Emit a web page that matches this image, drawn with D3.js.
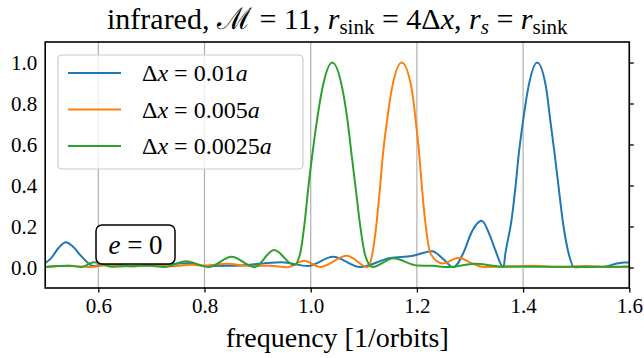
<!DOCTYPE html>
<html>
<head>
<meta charset="utf-8">
<script src="https://cdn.jsdelivr.net/npm/d3@7"></script>
<style>
  body { margin: 0; background: #fff; }
  svg text { font-family: "Liberation Serif", "DejaVu Serif", serif; fill: #000; }
</style>
</head>
<body>
<svg id="chart" width="644" height="358"></svg>
<script>
// Normalised power spectra for three grid resolutions (eccentricity e = 0)
const freqCoarse = [0.500, 0.510, 0.525, 0.539, 0.553, 0.567, 0.579, 0.590, 0.610, 0.640, 0.670, 0.720, 0.770, 0.800, 0.840, 0.870, 0.910, 0.945, 0.995, 1.042, 1.093, 1.150, 1.190, 1.229, 1.250, 1.268, 1.2906, 1.300, 1.322, 1.3376, 1.347, 1.363, 1.3665, 1.378, 1.3855, 1.3917, 1.3998, 1.4095, 1.4265, 1.4435, 1.4515, 1.4596, 1.467, 1.4746, 1.486, 1.496, 1.520, 1.550, 1.575, 1.590, 1.600];
const powerCoarse = [0.022, 0.042, 0.095, 0.123, 0.100, 0.058, 0.026, 0.007, 0.016, 0.012, 0.008, 0.016, 0.021, 0.007, 0.008, 0.010, 0.020, 0.026, 0.007, 0.052, 0.002, 0.047, 0.056, 0.079, 0.040, 0.001, 0.090, 0.155, 0.228, 0.155, 0.090, 0.001, 0.066, 0.228, 0.390, 0.550, 0.712, 0.874, 1.000, 0.874, 0.712, 0.550, 0.390, 0.228, 0.066, 0.001, 0.003, 0.003, 0.018, 0.025, 0.024];

const freqMedium = [0.500, 0.545, 0.585, 0.620, 0.665, 0.700, 0.740, 0.775, 0.800, 0.842, 0.890, 0.925, 0.955, 0.988, 1.018, 1.068, 1.1076, 1.116, 1.1245, 1.1305, 1.136, 1.1435, 1.153, 1.1715, 1.190, 1.198, 1.2045, 1.2095, 1.2155, 1.226, 1.248, 1.279, 1.300, 1.325, 1.370, 1.420, 1.470, 1.520, 1.560, 1.600];
const powerMedium = [0.003, 0.009, 0.002, 0.012, 0.004, 0.012, 0.006, 0.013, 0.010, 0.018, 0.007, 0.009, 0.001, 0.033, 0.002, 0.057, 0.001, 0.066, 0.228, 0.390, 0.550, 0.712, 0.874, 1.000, 0.874, 0.712, 0.550, 0.390, 0.228, 0.066, 0.020, 0.048, 0.025, 0.003, 0.004, 0.008, 0.002, 0.007, 0.002, 0.005];

const freqFine = [0.500, 0.545, 0.568, 0.592, 0.625, 0.690, 0.725, 0.765, 0.808, 0.851, 0.894, 0.931, 0.969, 0.980, 0.989, 0.9955, 1.003, 1.0115, 1.022, 1.0405, 1.0595, 1.0696, 1.077, 1.0846, 1.092, 1.102, 1.116, 1.156, 1.200, 1.230, 1.258, 1.310, 1.360, 1.420, 1.500, 1.600];
const powerFine = [0.003, 0.008, 0.003, 0.026, 0.004, 0.010, 0.002, 0.031, 0.002, 0.053, 0.002, 0.085, 0.012, 0.066, 0.228, 0.390, 0.550, 0.712, 0.874, 1.000, 0.874, 0.712, 0.550, 0.390, 0.228, 0.066, 0.002, 0.045, 0.010, 0.008, 0.002, 0.018, 0.005, 0.004, 0.004, 0.004];

const seriesValues = ["0.01", "0.005", "0.0025"];
const seriesColors = ["#1f77b4", "#ff7f0e", "#2ca02c"];
const xTicks = [0.6, 0.8, 1.0, 1.2, 1.4, 1.6];
const yTicks = [0.0, 0.2, 0.4, 0.6, 0.8, 1.0];
const xLabel = "frequency [1/orbits]";

const series = [
  { freq: freqCoarse, power: powerCoarse },
  { freq: freqMedium, power: powerMedium },
  { freq: freqFine, power: powerFine }
].map((s, i) => ({
  label: seriesValues[i],
  color: seriesColors[i],
  points: s.freq.map((f, j) => [f, s.power[j]])
}));

const svg = d3.select("#chart");
const plot = { left: 45.2, right: 629.3, top: 42, bottom: 288 };
const serif = "'Liberation Serif', 'DejaVu Serif', serif";

const x = d3.scaleLinear().domain([0.5, 1.6]).range([plot.left, plot.right]);
const y = d3.scaleLinear().domain([-0.1, 1.1]).range([plot.bottom, plot.top]);

svg.append("rect").attr("width", 644).attr("height", 358).attr("fill", "#fff");

// vertical grid lines
svg.append("g")
  .selectAll("line")
  .data(xTicks)
  .join("line")
  .attr("x1", d => x(d)).attr("x2", d => x(d))
  .attr("y1", plot.top).attr("y2", plot.bottom)
  .attr("stroke", "#b0b0b0").attr("stroke-width", 1.2);

svg.append("defs").append("clipPath").attr("id", "plotClip")
  .append("rect")
  .attr("x", plot.left).attr("y", plot.top)
  .attr("width", plot.right - plot.left).attr("height", plot.bottom - plot.top);

const line = d3.line()
  .x(d => x(d[0]))
  .y(d => y(d[1]))
  .curve(d3.curveMonotoneX);

svg.append("g").attr("clip-path", "url(#plotClip)")
  .selectAll("path")
  .data(series)
  .join("path")
  .attr("d", d => line(d.points))
  .attr("fill", "none")
  .attr("stroke", d => d.color)
  .attr("stroke-width", 2)
  .attr("stroke-linejoin", "round");

// axes
const fmt = d3.format(".1f");
const xAxis = svg.append("g")
  .attr("transform", `translate(0,${plot.bottom})`)
  .call(d3.axisBottom(x).tickValues(xTicks).tickFormat(fmt).tickSize(4.5).tickPadding(6));
const yAxisLabels = svg.append("g")
  .attr("transform", `translate(${plot.left},0)`)
  .call(d3.axisLeft(y).tickValues(yTicks).tickFormat(fmt).tickSize(0).tickPadding(8));
const yAxisTicks = svg.append("g")
  .attr("transform", `translate(${plot.right},0)`)
  .call(d3.axisRight(y).tickValues(yTicks).tickFormat("").tickSize(4.5));

[xAxis, yAxisLabels, yAxisTicks].forEach(g => {
  g.attr("font-family", null);
  g.select(".domain").remove();
  g.selectAll(".tick line").attr("stroke", "#000").attr("stroke-width", 1.3);
  g.selectAll(".tick text")
    .style("font-family", serif)
    .style("font-size", "21px").attr("fill", "#000");
});

// frame
svg.append("rect")
  .attr("x", plot.left).attr("y", plot.top)
  .attr("width", plot.right - plot.left).attr("height", plot.bottom - plot.top)
  .attr("fill", "none").attr("stroke", "#000").attr("stroke-width", 1.6);

// x axis label
svg.append("text")
  .attr("x", (plot.left + plot.right) / 2).attr("y", 347)
  .attr("text-anchor", "middle").style("font-size", "28px")
  .text(xLabel);

// text built from plain, italic, shifted and subscript runs
function addParts(t, parts) {
  parts.forEach(p => {
    const ts = t.append("tspan").text(p.t);
    if (p.i) ts.attr("font-style", "italic");
    if (p.sub) ts.attr("font-size", "70%");
    if (p.dy) ts.attr("dy", p.dy);
    if (p.f) ts.style("font-family", p.f);
  });
}

// title
const title = svg.append("text")
  .attr("x", (plot.left + plot.right) / 2).attr("y", 29)
  .attr("text-anchor", "middle").style("font-size", "30px");
addParts(title, [
  { t: "infrared, " },
  { t: "\u2133", f: "'DejaVu Serif', serif" },
  { t: " = 11, " },
  { t: "r", i: true },
  { t: "sink", sub: true, dy: 5 },
  { t: " = 4Δ", dy: -5 },
  { t: "x", i: true },
  { t: ", " },
  { t: "r", i: true },
  { t: "s", i: true, sub: true, dy: 5 },
  { t: " = ", dy: -5 },
  { t: "r", i: true },
  { t: "sink", sub: true, dy: 5 }
]);

// legend
const legend = svg.append("g");
legend.append("rect")
  .attr("x", 58).attr("y", 55).attr("width", 245).attr("height", 114)
  .attr("rx", 4).attr("fill", "#fff").attr("fill-opacity", 0.8)
  .attr("stroke", "#cccccc").attr("stroke-width", 1.2);
const rowY = [73, 109.5, 146];
series.forEach((s, i) => {
  legend.append("line")
    .attr("x1", 68).attr("x2", 121).attr("y1", rowY[i]).attr("y2", rowY[i])
    .attr("stroke", s.color).attr("stroke-width", 2);
  const t = legend.append("text")
    .attr("x", 142).attr("y", rowY[i] + 8).style("font-size", "24px");
  addParts(t, [
    { t: "Δ" }, { t: "x", i: true }, { t: " = " + s.label }, { t: "a", i: true }
  ]);
});

// eccentricity annotation
svg.append("rect")
  .attr("x", 96).attr("y", 225).attr("width", 79).attr("height", 39)
  .attr("rx", 6).attr("fill", "#fff").attr("stroke", "#000").attr("stroke-width", 1.5);
const eLabel = svg.append("text")
  .attr("x", 135.5).attr("y", 253.5).attr("text-anchor", "middle").style("font-size", "27px");
addParts(eLabel, [{ t: "e", i: true }, { t: " = 0" }]);
</script>
</body>
</html>
